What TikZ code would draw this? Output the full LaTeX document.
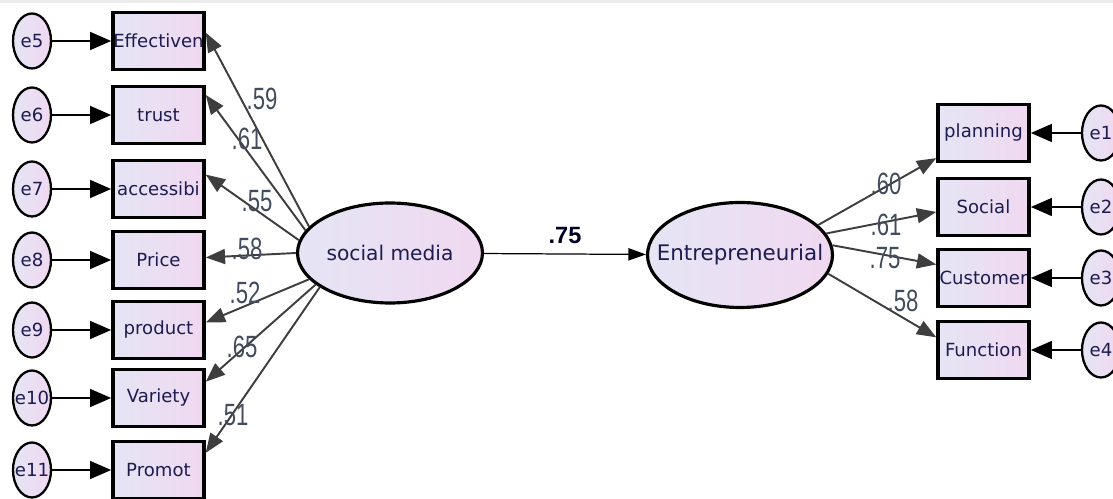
\documentclass[tikz,border=0pt]{standalone}
\usepackage{fontspec}
\setmainfont{DejaVu Sans}
\newfontfamily\numfont[FakeStretch=0.72]{Liberation Sans}
\newfontfamily\pathfont{Liberation Sans}
\usetikzlibrary{arrows.meta,shapes.geometric}

\definecolor{fillleft}{RGB}{229,229,244}
\definecolor{fillright}{RGB}{240,216,241}
\definecolor{textnavy}{RGB}{28,28,80}
\definecolor{numgray}{RGB}{66,76,94}
\definecolor{linegray}{RGB}{62,62,62}

\tikzstyle{obs}=[draw,line width=2pt,left color=fillleft,right color=fillright,minimum width=1.82cm,minimum height=1.14cm,inner sep=0pt,text=textnavy,font=\fontsize{10.3}{12}\selectfont]
\tikzstyle{err}=[draw,ellipse,line width=1.3pt,left color=fillleft,right color=fillright,minimum width=0.76cm,minimum height=1.1cm,inner sep=0pt,text=textnavy,font=\fontsize{10.3}{12}\selectfont]
\tikzstyle{latent}=[draw,ellipse,line width=1.8pt,left color=fillleft,right color=fillright,minimum width=3.7cm,minimum height=2cm,inner sep=0pt,text=textnavy]
\tikzstyle{loadlabel}=[text=numgray,inner sep=0pt,font=\numfont\fontsize{17.5}{17.5}\selectfont]

% box, its error term and the arrow between them
\newcommand{\indicator}[6]{\node[obs] (#1) at (#2,#3) {\makebox[0pt]{#4}};
  \node[err] (#5) at (#6,#3) {\makebox[0pt]{#5}};
  \draw[errarrow] (#5) -- (#1);}
\newcommand{\myload}[4]{ \draw[loadarrow] (#1) -- (#2); \node[loadlabel] at (#4) {#3};}

\tikzset{
  errarrow/.style={-{Triangle[length=12pt,width=10pt]},line width=1.5pt},
  loadarrow/.style={-{Triangle[length=11pt,width=8.5pt]},line width=1.1pt,draw=linegray,fill=linegray},
}

\begin{document}
\begin{tikzpicture}[x=0.02cm,y=-0.02cm]
  \useasboundingbox (0,0) rectangle (1113,499);
  \fill[gray!15] (0,0) rectangle (1113,3);

  \node[latent,font=\fontsize{11.5}{13}\selectfont] (sm) at (390,253) {\makebox[0pt]{social media}};
  \node[latent,minimum height=2.1cm,font=\fontsize{12.2}{14}\selectfont] (ent) at (740,255) {\makebox[0pt]{Entrepreneurial}};

  \indicator{eff}{158.5}{41}{Effectiven}{e5}{32}
  \indicator{trust}{158.5}{115}{trust}{e6}{32}
  \indicator{acc}{158.5}{189}{accessibi}{e7}{32}
  \indicator{price}{158.5}{260}{Price}{e8}{32}
  \indicator{prod}{158.5}{330}{product}{e9}{32}
  \indicator{var}{158.5}{398}{Variety}{e10}{32}
  \indicator{prom}{158.5}{470}{Promot}{e11}{32}

  \indicator{plan}{983.5}{133}{planning}{e1}{1101}
  \indicator{soc}{983.5}{207}{Social}{e2}{1101}
  \indicator{cust}{983.5}{278}{Customer}{e3}{1101}
  \indicator{func}{983.5}{350}{Function}{e4}{1101}

  \myload{sm.162}{eff.10}{.59}{262,99}
  \myload{sm.165}{trust.23}{.61}{247,139}
  \myload{sm.172}{acc.17}{.55}{257,201}
  \myload{sm.180}{price.3}{.58}{247,249}
  \myload{sm.198}{prod.9}{.52}{245,293}
  \myload{sm.203}{var.19}{.65}{242,347}
  \myload{sm.206}{prom.20}{.51}{233,415}

  \myload{ent.21}{plan.208}{.60}{886,184}
  \myload{ent.14}{soc.186}{.61}{886,225}
  \myload{ent.6}{cust.164}{.75}{885,258}
  \myload{ent.348}{func.165}{.58}{903,301}

  \draw[-{Triangle[length=10pt,width=7pt]},line width=0.7pt] (sm) edge node[above=2pt,font=\pathfont\bfseries\fontsize{13.4}{14}\selectfont,text=black!85!blue] {.75} (ent);
\end{tikzpicture}
\end{document}
